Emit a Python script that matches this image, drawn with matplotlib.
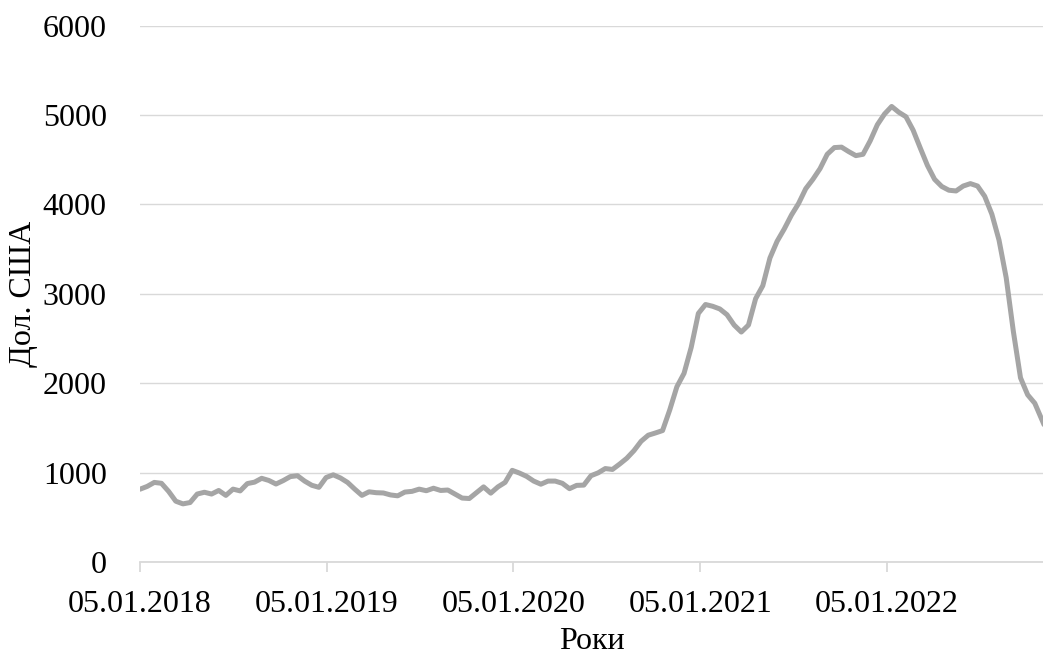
import matplotlib.pyplot as plt
import matplotlib.dates as mdates
import pandas as pd

# fortnightly prices (USD)
start_date = "2018-01-05"
price = [
    814, 845, 890, 880, 790, 680, 650, 665, 760, 780,
    760, 800, 745, 815, 795, 877, 893, 936, 912, 872,
    910, 955, 965, 905, 858, 835, 945, 975, 940, 890,
    815, 745, 785, 775, 772, 750, 740, 782, 790, 815,
    797, 825, 800, 805, 760, 715, 710, 775, 840, 770,
    840, 890, 1025, 995, 958, 905, 870, 905, 905, 880,
    820, 857, 860, 965, 997, 1045, 1035, 1095, 1160, 1245,
    1350, 1418, 1443, 1470, 1700, 1960, 2110, 2400, 2780, 2880,
    2860, 2830, 2766, 2650, 2572, 2650, 2945, 3090, 3400, 3587,
    3725, 3880, 4010, 4175, 4280, 4400, 4560, 4635, 4640, 4590,
    4545, 4560, 4710, 4890, 5010, 5095, 5030, 4980, 4830, 4630,
    4435, 4280, 4200, 4158, 4150, 4205, 4232, 4205, 4090, 3890,
    3600, 3180, 2580, 2060, 1870, 1775, 1590, 1400,
]
tick_dates = ["2018-01-05", "2019-01-05", "2020-01-05", "2021-01-05", "2022-01-05"]
y_ticks = [0, 1000, 2000, 3000, 4000, 5000, 6000]

dates = pd.date_range(start_date, periods=len(price), freq="14D")

plt.rcParams['font.family'] = ['Liberation Serif', 'DejaVu Serif']

fig = plt.figure(figsize=(10.43, 6.55), dpi=100)
ax = fig.add_axes([0.1342, 0.142, 0.8658, 0.819])

ax.plot(dates, price, color='#a5a5a5', linewidth=3.6, solid_capstyle='round')

ax.set_xlim(pd.Timestamp("2018-01-05"), pd.Timestamp("2022-11-06"))
ax.set_ylim(0, 6000)
ax.set_yticks(y_ticks)
ax.set_xticks(pd.to_datetime(tick_dates))
ax.xaxis.set_major_formatter(mdates.DateFormatter('%d.%m.%Y'))

ax.grid(axis='y', color='#d9d9d9', linewidth=1.0)
ax.set_axisbelow(True)
for side in ['top', 'right', 'left']:
    ax.spines[side].set_visible(False)
ax.spines['bottom'].set_color('#d9d9d9')
ax.spines['bottom'].set_linewidth(1.3)

ax.tick_params(axis='y', length=0, pad=24, labelsize=23)
ax.tick_params(axis='x', length=7, width=1.3, color='#d9d9d9', pad=13, labelsize=23)

ax.set_xlabel('Роки', fontsize=23, labelpad=6)
ax.set_ylabel('Дол. США', fontsize=23)
ax.yaxis.set_label_coords(-0.113, 0.5)

fig.savefig('out.png', dpi=100)
